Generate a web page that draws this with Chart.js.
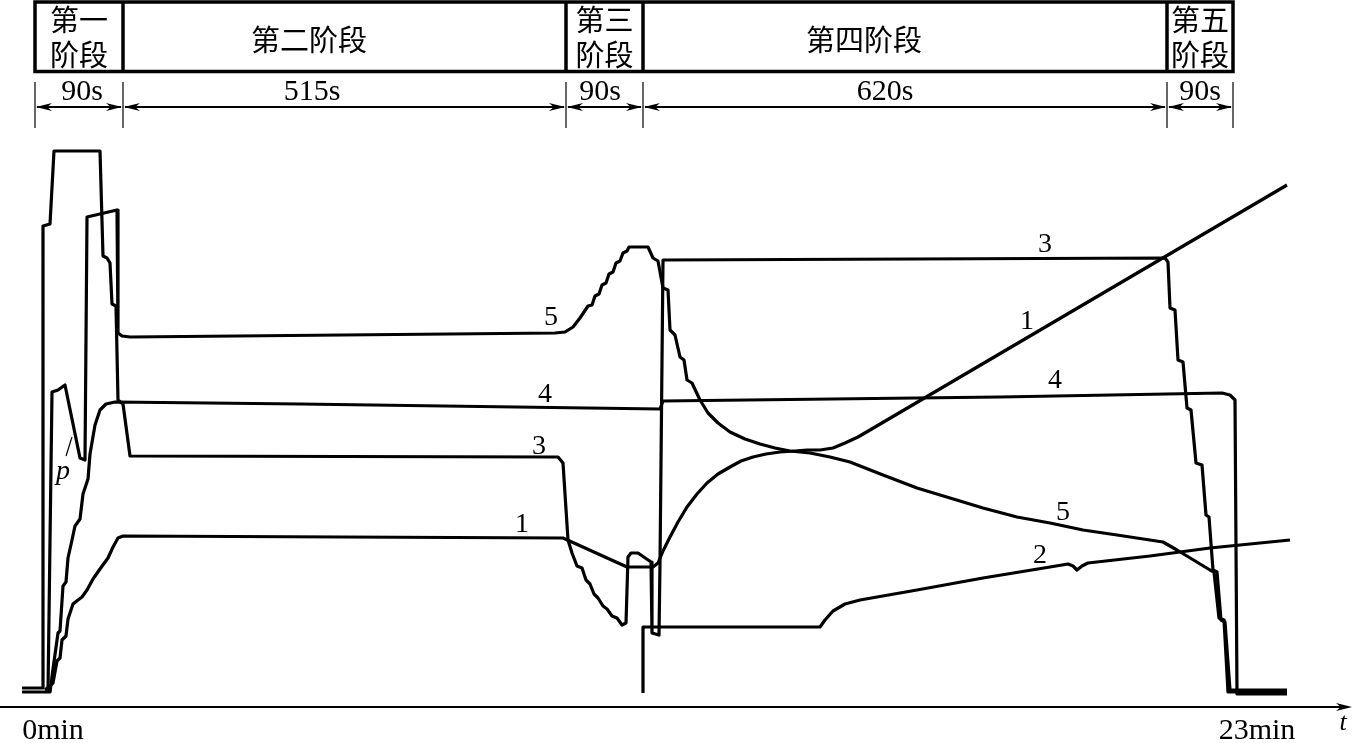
<!DOCTYPE html>
<html>
<head>
<meta charset="utf-8">
<script src="https://cdn.jsdelivr.net/npm/chart.js@4.4.1/dist/chart.umd.min.js"></script>
<style>
  html, body { margin: 0; padding: 0; background: #fff; }
  #wrap { width: 1356px; height: 743px; }
</style>
</head>
<body>
<div id="wrap"><canvas id="process-chart"></canvas></div>
<script>
// x: time (min) from the start of stage 1, y: relative value
const curve1 = [
  [0.20, 3.4], [0.36, 4.8], [0.44, 9.2], [0.50, 9.8], [0.54, 13.4], [0.62, 14.2],
  [0.66, 17.6], [0.76, 20.6], [0.86, 21.4], [0.94, 22.0], [1.04, 23.4], [1.16, 25.6],
  [1.30, 27.6], [1.46, 29.8], [1.56, 32.0], [1.66, 33.8], [1.76, 34.2], [10.56, 33.8],
  [11.84, 28.0], [12.36, 28.0], [12.46, 28.8], [12.56, 31.2], [12.70, 34.0], [12.86, 37.0],
  [13.04, 40.0], [13.24, 42.6], [13.44, 44.8], [13.66, 46.6], [13.90, 48.0], [14.12, 49.2],
  [14.36, 50.0], [14.62, 50.6], [14.90, 51.0], [15.20, 51.2], [15.44, 51.4], [15.70, 51.4],
  [15.96, 51.8], [16.20, 52.8], [16.46, 54.0], [16.70, 55.4], [25.04, 104.4]
];

const curve2 = [
  [12.16, 2.8], [12.16, 16.0], [15.70, 16.0], [15.80, 17.4], [15.96, 19.2], [16.20, 20.6],
  [16.50, 21.4], [17.64, 23.4], [18.96, 25.8], [20.30, 28.0], [20.66, 28.6], [20.76, 28.2],
  [20.84, 27.4], [20.94, 28.2], [21.06, 28.8], [22.30, 30.2], [23.50, 31.8], [25.10, 33.4]
];

const curve3 = [
  [-0.26, 3.8], [0.16, 3.8], [0.16, 96.2], [0.30, 96.6], [0.38, 111.2], [1.30, 111.2],
  [1.36, 90.2], [1.44, 89.8], [1.50, 88.8], [1.54, 80.6], [1.62, 80.2], [1.66, 61.4],
  [1.76, 60.6], [1.90, 50.2], [10.46, 50.0], [10.56, 48.8], [10.66, 33.4], [10.74, 30.8],
  [10.84, 28.2], [10.94, 27.8], [11.02, 25.4], [11.10, 24.6], [11.18, 22.6], [11.26, 21.8],
  [11.36, 20.2], [11.44, 19.6], [11.54, 18.2], [11.64, 17.8], [11.74, 16.4], [11.82, 16.8],
  [11.86, 30.0], [11.92, 30.8], [12.06, 30.8], [12.32, 29.0], [12.34, 14.8], [12.48, 14.4],
  [12.50, 28.8], [12.56, 89.4], [22.60, 89.8], [22.66, 89.0], [22.70, 79.8], [22.80, 79.4],
  [22.86, 69.4], [22.96, 69.0], [23.04, 59.8], [23.12, 59.4], [23.22, 48.8], [23.34, 48.4],
  [23.42, 38.4], [23.48, 38.0], [23.56, 27.4], [23.64, 27.0], [23.72, 17.4], [23.80, 17.0],
  [23.90, 3.4], [25.04, 3.4]
];

const curve4 = [
  [-0.26, 3.0], [0.30, 3.0], [0.36, 7.6], [0.46, 14.8], [0.50, 15.2], [0.56, 24.2],
  [0.62, 25.0], [0.66, 29.8], [0.74, 33.4], [0.80, 36.2], [0.90, 37.6], [0.96, 42.6],
  [1.06, 45.6], [1.10, 50.6], [1.20, 56.4], [1.30, 59.4], [1.42, 60.6], [1.60, 61.0],
  [5.30, 60.6], [12.50, 59.6], [12.56, 61.2], [19.30, 62.0], [23.74, 62.8], [23.90, 62.4],
  [24.00, 61.4], [24.04, 2.6], [25.04, 2.6]
];

// curve 5 (the p trace in stage 1 runs into it)
const curve5 = [
  [0.26, 3.2], [0.34, 63.0], [0.46, 63.4], [0.60, 64.4], [0.90, 49.8], [1.00, 49.4],
  [1.04, 98.0], [1.64, 99.4], [1.66, 74.8], [1.74, 74.2], [1.90, 74.0], [10.40, 74.8],
  [10.60, 75.0], [10.76, 76.0], [10.90, 77.8], [11.06, 80.2], [11.14, 80.4], [11.20, 82.2],
  [11.28, 82.6], [11.34, 84.4], [11.42, 84.8], [11.48, 86.6], [11.56, 87.0], [11.62, 88.8],
  [11.70, 89.2], [11.76, 90.8], [11.84, 91.2], [11.88, 92.0], [12.26, 92.0], [12.36, 89.8],
  [12.46, 89.2], [12.56, 83.8], [12.66, 83.4], [12.70, 75.4], [12.80, 74.4], [12.90, 70.0],
  [12.98, 69.4], [13.04, 65.4], [13.14, 64.8], [13.30, 61.4], [13.46, 58.8], [13.66, 56.8],
  [13.90, 55.0], [14.20, 53.6], [14.50, 52.6], [14.80, 51.8], [15.10, 51.2], [15.50, 50.8],
  [15.90, 50.0], [16.30, 49.0], [16.96, 46.4], [17.64, 43.8], [18.30, 41.8], [18.96, 39.8],
  [19.64, 38.0], [20.30, 36.8], [20.96, 35.4], [21.64, 34.4], [22.56, 33.0], [22.84, 31.4],
  [23.50, 27.4], [23.58, 27.0], [23.68, 17.8], [23.78, 17.4], [23.86, 3.0], [25.04, 3.0]
];

const stageNames = ["第一阶段", "第二阶段", "第三阶段", "第四阶段", "第五阶段"];
const stageDurations = ["90s", "515s", "90s", "620s", "90s"];
const stageEdges = [0, 1.76, 10.62, 12.16, 22.64, 23.96];
const stageNameAt = [0.88, 5.48, 11.39, 16.58, 23.30];
const durationAt = [0.94, 5.54, 11.30, 17.00, 23.30];

const curveLabels = [
  ["5", 10.32, 77.8], ["4", 10.20, 62.4], ["3", 10.08, 52.0], ["1", 9.74, 36.4],
  ["3", 20.20, 92.4], ["1", 19.84, 77.0], ["4", 20.40, 65.2], ["5", 20.56, 38.8],
  ["2", 20.10, 30.2]
];
const axisLabels = ["0min", "23min"];

const serif = "'Liberation Serif', 'Times New Roman', 'Noto Sans CJK SC', serif";

function line(ctx, x1, y1, x2, y2) {
  ctx.beginPath();
  ctx.moveTo(x1, y1);
  ctx.lineTo(x2, y2);
  ctx.stroke();
}

function arrowHead(ctx, x, y, dir, len, half) {
  ctx.beginPath();
  ctx.moveTo(x, y);
  ctx.lineTo(x - dir * len, y - half);
  ctx.lineTo(x - dir * len * 0.7, y);
  ctx.lineTo(x - dir * len, y + half);
  ctx.closePath();
  ctx.fill();
}

const annotations = {
  id: "annotations",
  afterDraw(chart) {
    const ctx = chart.ctx;
    const px = v => chart.scales.x.getPixelForValue(v);
    const py = v => chart.scales.y.getPixelForValue(v);
    ctx.save();
    ctx.strokeStyle = "#000";
    ctx.fillStyle = "#000";

    // stage boxes
    const left = px(stageEdges[0]);
    const right = px(stageEdges[stageEdges.length - 1]);
    ctx.lineWidth = 3.5;
    ctx.strokeRect(left, 2, right - left, 69.5);
    for (let i = 1; i < stageEdges.length - 1; i++) {
      line(ctx, px(stageEdges[i]), 2, px(stageEdges[i]), 71.5);
    }
    ctx.font = "29px 'Noto Sans CJK SC', sans-serif";
    ctx.textAlign = "center";
    ctx.textBaseline = "middle";
    stageNames.forEach((name, i) => {
      const w = px(stageEdges[i + 1]) - px(stageEdges[i]);
      const cx = px(stageNameAt[i]);
      if (w < 100) {
        ctx.fillText(name.slice(0, 2), cx, 20);
        ctx.fillText(name.slice(2), cx, 55);
      } else {
        ctx.fillText(name, cx, 40);
      }
    });

    // durations row
    ctx.lineWidth = 1.2;
    stageEdges.forEach(e => line(ctx, px(e), 82, px(e), 128));
    ctx.lineWidth = 2;
    for (let i = 0; i < stageEdges.length - 1; i++) {
      const a = px(stageEdges[i]), b = px(stageEdges[i + 1]);
      line(ctx, a + 2, 107, b - 2, 107);
      arrowHead(ctx, a + 1, 107, -1, 16, 4);
      arrowHead(ctx, b - 1, 107, 1, 16, 4);
    }
    ctx.font = "30px " + serif;
    stageDurations.forEach((d, i) => ctx.fillText(d, px(durationAt[i]), 92));

    // time axis
    const y0 = py(0);
    ctx.lineWidth = 2;
    line(ctx, 0, y0, 1344, y0);
    arrowHead(ctx, 1352, y0, 1, 16, 4);
    ctx.font = "italic 26px " + serif;
    ctx.fillText("t", 1343, y0 + 16);
    ctx.font = "30px " + serif;
    ctx.fillText(axisLabels[0], px(stageEdges[0]) + 18, 731);
    ctx.fillText(axisLabels[1], right + 24, 731);

    // curve numbers
    ctx.font = "28px " + serif;
    curveLabels.forEach(([t, x, y]) => ctx.fillText(t, px(x), py(y)));

    // p mark
    ctx.font = "italic 28px " + serif;
    ctx.fillText("p", px(0.56), py(47.0));
    ctx.lineWidth = 1.2;
    line(ctx, px(0.62), py(50.2), px(0.74), py(54.0));
    ctx.restore();
  }
};

const toPoints = arr => arr.map(([x, y]) => ({ x, y }));

const lineStyle = {
  borderColor: "#000",
  borderWidth: 3.2,
  borderJoinStyle: "round",
  pointRadius: 0,
  tension: 0,
  fill: false
};

new Chart(document.getElementById("process-chart"), {
  type: "line",
  data: {
    datasets: [
      { label: "1", data: toPoints(curve1), ...lineStyle },
      { label: "2", data: toPoints(curve2), ...lineStyle },
      { label: "3", data: toPoints(curve3), ...lineStyle },
      { label: "4", data: toPoints(curve4), ...lineStyle },
      { label: "5", data: toPoints(curve5), ...lineStyle }
    ]
  },
  options: {
    responsive: true,
    maintainAspectRatio: false,
    animation: false,
    events: [],
    layout: { padding: 0 },
    plugins: {
      legend: { display: false },
      title: { display: false },
      tooltip: { enabled: false }
    },
    scales: {
      x: { type: "linear", display: false, min: -0.7, max: 26.42 },
      y: { type: "linear", display: false, min: -7.2, max: 141.4 }
    }
  },
  plugins: [annotations]
});
</script>
</body>
</html>
